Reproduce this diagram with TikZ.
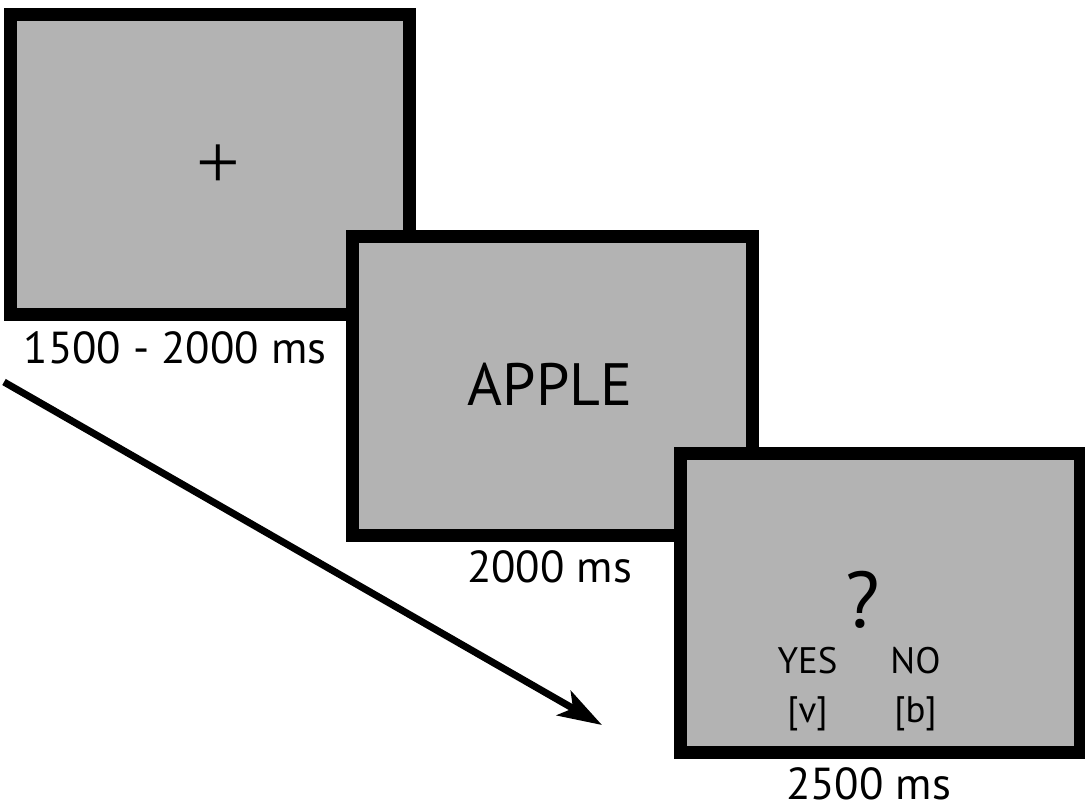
\documentclass[tikz,border=0pt]{standalone}
\usepackage{fontspec}
\setmainfont{PT Sans}
\newfontfamily\crossfont{Liberation Serif}
\usepackage{xcolor}
\usepackage{tikz}
\usetikzlibrary{arrows.meta, positioning}
\definecolor{screengray}{RGB}{179, 179, 179}

\begin{document}
\begin{tikzpicture}[
    x=0.02cm, y=-0.02cm,
    every node/.style={inner sep=0pt, outer sep=0pt},
    screen/.style={rectangle, draw=black, fill=screengray, line width=7.4pt, minimum width=8cm, minimum height=6cm},
    duration/.style={anchor=base, font=\fontsize{25.5}{30}\selectfont},
    answer/.style={font=\fontsize{21}{24}\selectfont},
    timearrow/.style={-{Stealth[length=25pt, width=16pt, inset=6pt]}, line width=4pt}
]
\useasboundingbox (0,0) rectangle (1085,809);
% the three screens of one trial
\node[screen] (fix) at (210,164.5) {};
\node[screen] (word) at (552.5,386) {};
\node[screen] (probe) at (880.5,603) {};
% screen contents
\node[font=\crossfont\fontsize{44}{48}\selectfont] (cross) at (218,167) {+};
\node[font=\fontsize{34}{40}\selectfont] (apple) at (550,384) {APPLE};
\node[font=\fontsize{45}{50}\selectfont] (quest) at (863,600) {?};
\node[answer] (yes) at (807.5,661) {YES};
\node[answer] (no) at (915.5,661) {NO};
\node[answer, below=0.45cm of yes] (vkey) {[v]};
\node[answer, below=0.45cm of no] (bkey) {[b]};
% durations
\node[duration] (fixtime) at (175,363) {1500 - 2000 ms};
\node[duration] (wordtime) at (549.5,582) {2000 ms};
\node[duration] (probetime) at (868.5,799) {2500 ms};
% time runs down to the right
\coordinate (tstart) at (4,382);
\coordinate (tend) at (602,725);
\draw[timearrow] (tstart) -- (tend);
\end{tikzpicture}
\end{document}
